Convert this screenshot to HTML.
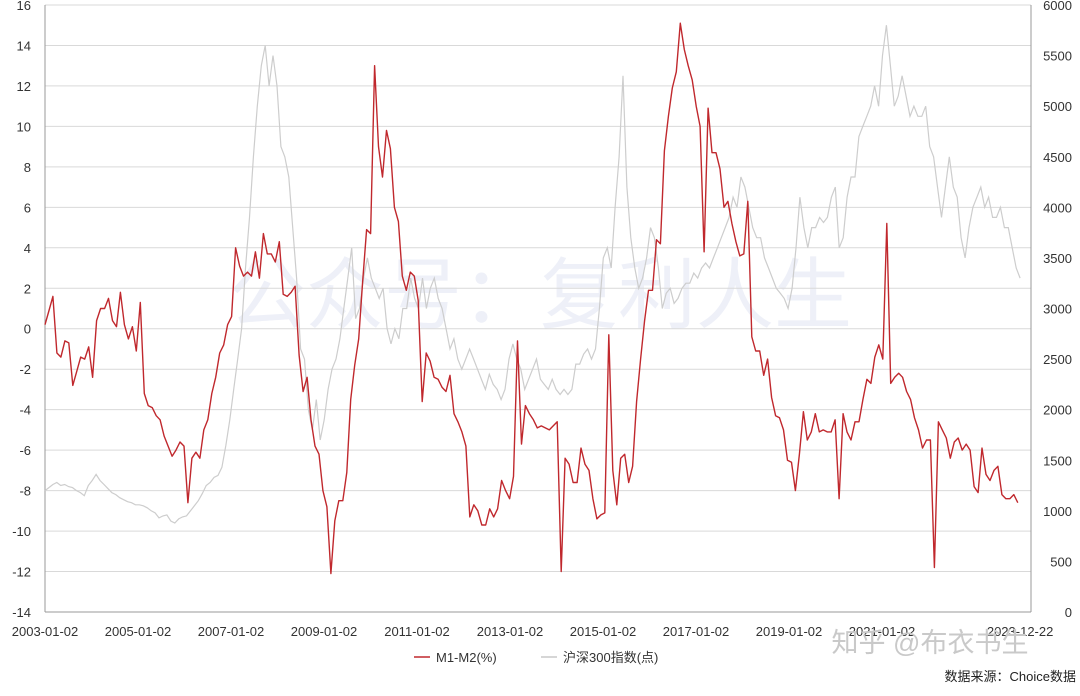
<!DOCTYPE html>
<html><head><meta charset="utf-8"><style>
body{margin:0;background:#fff;}
svg text{font-family:"Liberation Sans","Noto Sans CJK SC",sans-serif;}
</style></head><body>
<svg id="chart" width="1080" height="691">
<text x="540" y="322" text-anchor="middle" font-size="78" fill="#eef0f8">公众号：复利人生</text>
<g id="grid"></g><g id="axes"></g><g id="series"></g>
<g>
<line x1="414" y1="657" x2="430" y2="657" stroke="#c0282d" stroke-width="1.5"/>
<text x="436" y="662" font-size="13" fill="#333">M1-M2(%)</text>
<line x1="541" y1="657" x2="557" y2="657" stroke="#c8c8c8" stroke-width="1.5"/>
<text x="563" y="662" font-size="13" fill="#333">沪深300指数(点)</text>
</g>
<text x="930" y="652" text-anchor="middle" font-size="27" fill="#c9c9c9">知乎 @布衣书生</text>
<text x="1076" y="681" text-anchor="end" font-size="13" fill="#222">数据来源：Choice数据</text>
</svg>
<script>
const leftTicks=[16,14,12,10,8,6,4,2,0,-2,-4,-6,-8,-10,-12,-14];
const rightTicks=[6000,5500,5000,4500,4000,3500,3000,2500,2000,1500,1000,500,0];
const xTickLabels=["2003-01-02","2005-01-02","2007-01-02","2009-01-02","2011-01-02","2013-01-02","2015-01-02","2017-01-02","2019-01-02","2021-01-02","2023-12-22"];
const xTickYears=[2003.0,2005.0,2007.0,2009.0,2011.0,2013.0,2015.0,2017.0,2019.0,2021.0,2023.97];
const redStart=2003.0, redEnd=2023.92;
const m1m2=[0.2,0.9,1.6,-1.2,-1.4,-0.6,-0.7,-2.8,-2.1,-1.4,-1.5,-0.9,-2.4,0.4,1.0,1.0,1.5,0.4,0.1,1.8,0.2,-0.5,0.1,-1.1,1.3,-3.2,-3.8,-3.9,-4.3,-4.5,-5.3,-5.8,-6.3,-6.0,-5.6,-5.8,-8.6,-6.4,-6.1,-6.4,-5.0,-4.5,-3.2,-2.4,-1.2,-0.8,0.2,0.6,4.0,3.1,2.6,2.8,2.6,3.8,2.5,4.7,3.7,3.7,3.3,4.3,1.7,1.6,1.8,2.1,-1.3,-3.1,-2.4,-4.5,-5.8,-6.2,-8.0,-8.8,-12.1,-9.5,-8.5,-8.5,-7.1,-3.5,-1.8,-0.5,2.3,4.9,4.7,13.0,9.0,7.5,9.8,8.9,6.0,5.3,2.6,1.9,2.8,2.6,1.4,-3.6,-1.2,-1.6,-2.4,-2.5,-2.9,-3.1,-2.3,-4.2,-4.6,-5.1,-5.8,-9.3,-8.7,-9.0,-9.7,-9.7,-8.9,-9.3,-8.9,-7.5,-8.0,-8.4,-7.3,-0.6,-5.7,-3.8,-4.2,-4.5,-4.9,-4.8,-4.9,-5.0,-4.8,-4.6,-12.0,-6.4,-6.7,-7.6,-7.6,-5.9,-6.7,-7.0,-8.4,-9.4,-9.2,-9.1,-0.3,-7.0,-8.7,-6.4,-6.2,-7.6,-6.8,-3.6,-1.5,0.4,1.9,1.9,4.4,4.2,8.8,10.5,11.9,12.7,15.1,13.8,13.0,12.3,11.0,10.0,3.8,10.9,8.7,8.7,7.9,6.0,6.3,5.2,4.3,3.6,3.7,6.3,-0.4,-1.1,-1.1,-2.3,-1.5,-3.4,-4.3,-4.4,-5.0,-6.5,-6.6,-8.0,-6.2,-4.1,-5.5,-5.1,-4.2,-5.1,-5.0,-5.1,-5.1,-4.5,-8.4,-4.2,-5.1,-5.5,-4.6,-4.6,-3.5,-2.5,-2.7,-1.4,-0.8,-1.5,5.2,-2.7,-2.4,-2.2,-2.4,-3.1,-3.5,-4.4,-5.0,-5.9,-5.5,-5.5,-11.8,-4.6,-5.0,-5.4,-6.4,-5.6,-5.4,-6.0,-5.7,-6.0,-7.8,-8.1,-5.9,-7.2,-7.5,-7.0,-6.8,-8.2,-8.4,-8.4,-8.2,-8.6];
const grayStart=2003.0, grayEnd=2023.97;
const csi300=[1200,1230,1260,1280,1250,1260,1240,1230,1200,1180,1150,1250,1300,1360,1300,1260,1220,1180,1160,1130,1110,1090,1080,1060,1060,1050,1030,1000,980,930,950,960,900,880,920,940,950,1000,1050,1100,1170,1250,1280,1330,1350,1430,1650,1900,2200,2500,2800,3400,3900,4500,5000,5400,5600,5200,5500,5200,4600,4500,4300,3800,3300,2600,2500,2000,1800,2100,1700,1900,2200,2400,2500,2700,3000,3300,3600,2900,3000,3300,3500,3300,3200,3100,3200,2800,2650,2800,2700,3000,3000,3300,3100,3000,3300,3000,3200,3300,3100,3000,2800,2600,2700,2500,2400,2500,2600,2500,2400,2300,2200,2350,2250,2200,2100,2200,2500,2650,2500,2400,2200,2300,2400,2500,2300,2250,2200,2300,2200,2150,2200,2150,2200,2450,2450,2550,2600,2500,2600,3000,3500,3600,3400,4000,4500,5300,4200,3700,3400,3200,3300,3500,3800,3700,3400,3000,3150,3200,3050,3100,3200,3250,3250,3350,3300,3400,3450,3400,3500,3600,3700,3800,3900,4100,4000,4300,4200,4000,3800,3700,3700,3500,3400,3300,3200,3150,3100,3000,3200,3600,4100,3800,3600,3800,3800,3900,3850,3900,4100,4200,3600,3700,4100,4300,4300,4700,4800,4900,5000,5200,5000,5500,5800,5400,5000,5100,5300,5100,4900,5000,4900,4900,5000,4600,4500,4200,3900,4200,4500,4200,4100,3700,3500,3800,4000,4100,4200,4000,4100,3900,3900,4000,3800,3800,3600,3400,3300];

const NS="http://www.w3.org/2000/svg";
const PL=45,PR=1031,PT=5,PB=612;
const X0=2003.0,PXY=46.5;
function xs(t){return PL+(t-X0)*PXY;}
function yl(v){return PT+(16-v)/30*(PB-PT);}
function yr(v){return PB-v/6000*(PB-PT);}
function mk(tag,attrs,parent){const e=document.createElementNS(NS,tag);for(const k in attrs)e.setAttribute(k,attrs[k]);parent.appendChild(e);return e;}
const grid=document.getElementById('grid'),axes=document.getElementById('axes'),series=document.getElementById('series');
leftTicks.forEach(v=>{
 const y=yl(v);
 if(v!==-14){const g=mk('line',{x1:PL,x2:PR,y1:y,y2:y,stroke:'#d9d9d9','stroke-width':1},grid);
 
 }
 const t=mk('text',{x:31,y:y+5,'text-anchor':'end','font-size':13,fill:'#333'},axes);t.textContent=v;
 
 
});
rightTicks.forEach(v=>{
 const t=mk('text',{x:1072,y:yr(v)+5,'text-anchor':'end','font-size':13,fill:'#333'},axes);t.textContent=v;
 
 
});
const la=mk('line',{x1:PL,x2:PL,y1:PT,y2:PB,stroke:'#999'},axes);


const ra=mk('line',{x1:PR,x2:PR,y1:PT,y2:PB,stroke:'#999'},axes);


const xa=mk('line',{x1:PL,x2:PR,y1:PB,y2:PB,stroke:'#999'},axes);


xTickLabels.forEach((s,i)=>{
 const t=mk('text',{x:xs(xTickYears[i]),y:636,'text-anchor':'middle','font-size':13,fill:'#333'},axes);t.textContent=s;
 
 
});
function pathFor(arr,s,e,yf){const n=arr.length;return arr.map((v,i)=>(i?'L':'M')+xs(s+(e-s)*i/(n-1)).toFixed(1)+','+yf(v).toFixed(1)).join('');}
const gp=mk('path',{d:pathFor(csi300,grayStart,grayEnd,yr),fill:'none',stroke:'#cdcdcd','stroke-width':1.2},series);


const rp=mk('path',{d:pathFor(m1m2,redStart,redEnd,yl),fill:'none',stroke:'#c0282d','stroke-width':1.4,'stroke-linejoin':'round'},series);


</script>
</body></html>
